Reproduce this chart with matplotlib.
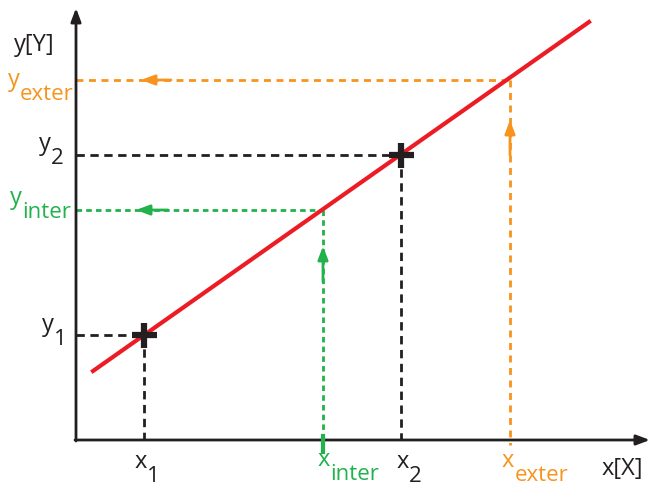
import matplotlib
matplotlib.use("Agg")
import matplotlib.pyplot as plt

# coordinates measured from the axis origin (pixel-like units)
line_x = [17, 513]
line_y = [69, 418]

x1, y1 = 68, 105
x2, y2 = 325, 285
x_inter, y_inter = 247, 230
x_exter, y_exter = 434, 360

RED = "#ED1C24"
BLACK = "#231F20"
GREEN = "#22B24C"
ORANGE = "#F7941D"

plt.rcParams["font.family"] = ["Open Sans", "DejaVu Sans"]

fig = plt.figure(figsize=(6.55, 4.86), dpi=100)
ax = fig.add_axes([0, 0, 1, 1])
ax.set_xlim(-76, 579)
ax.set_ylim(-46, 440)
ax.axis("off")

# axes with arrowheads
arr = dict(arrowstyle="-|>,head_length=0.8,head_width=0.3", color=BLACK, lw=2,
           shrinkA=0, shrinkB=0)
ax.annotate("", xy=(0, 432), xytext=(0, -1), arrowprops=arr)
ax.annotate("", xy=(574, 0), xytext=(-1, 0), arrowprops=arr)

# helper lines to the measured points
for px, py in [(x1, y1), (x2, y2)]:
    ax.plot([0, px], [py, py], color=BLACK, lw=2, ls=(0, (3, 2)), zorder=2)
    ax.plot([px, px], [py, 0], color=BLACK, lw=2, ls=(0, (3, 2)), zorder=2)

ax.plot([0, x_inter], [y_inter, y_inter], color=GREEN, lw=2, ls=(0, (2, 1.5)), zorder=2)
ax.plot([x_inter, x_inter], [y_inter, -12], color=GREEN, lw=2, ls=(0, (2, 1.5)), zorder=2)
ax.plot([x_inter, x_inter], [-12, 4], color=GREEN, lw=3, zorder=3)

ax.plot([0, x_exter], [y_exter, y_exter], color=ORANGE, lw=2, ls=(0, (2.5, 2)), zorder=2)
ax.plot([x_exter, x_exter], [y_exter, -5], color=ORANGE, lw=2, ls=(0, (2.5, 2)), zorder=2)

# direction arrows
def small_arrow(tip, tail, color):
    ax.annotate("", xy=tip, xytext=tail,
                arrowprops=dict(arrowstyle="-|>,head_length=0.8,head_width=0.3",
                                color=color, lw=2, shrinkA=0, shrinkB=0), zorder=4)

small_arrow((65, y_exter), (95, y_exter), ORANGE)
small_arrow((60, y_inter), (92, y_inter), GREEN)
small_arrow((x_inter, 194), (x_inter, 158), GREEN)
small_arrow((x_exter, 320), (x_exter, 285), ORANGE)

# calibration line and points
ax.plot(line_x, line_y, color=RED, lw=3, zorder=5)
ax.plot([x1, x2], [y1, y2], ls="none", marker="+", ms=18, mew=4.5,
        color=BLACK, zorder=6)

fs = 17
fs_sub = 16


def label(x, y, main, sub, color):
    t = ax.text(x, y, main, fontsize=fs, color=color, ha="left", va="baseline")
    if sub:
        ax.annotate(sub, xy=(1, 0), xycoords=t, xytext=(0, -5.5),
                    textcoords="offset points", fontsize=fs_sub, color=color,
                    ha="left", va="baseline")


label(-62, 389, "y[Y]", "", BLACK)
label(-68, 354, "y", "exter", ORANGE)
label(-37, 290, "y", "2", BLACK)
label(-66, 236, "y", "inter", GREEN)
label(-34, 109, "y", "1", BLACK)

label(59, -28, "x", "1", BLACK)
label(242, -26, "x", "inter", GREEN)
label(321, -28, "x", "2", BLACK)
label(426, -27, "x", "exter", ORANGE)
label(526, -35, "x[X]", "", BLACK)

fig.savefig("out.png", dpi=100)
